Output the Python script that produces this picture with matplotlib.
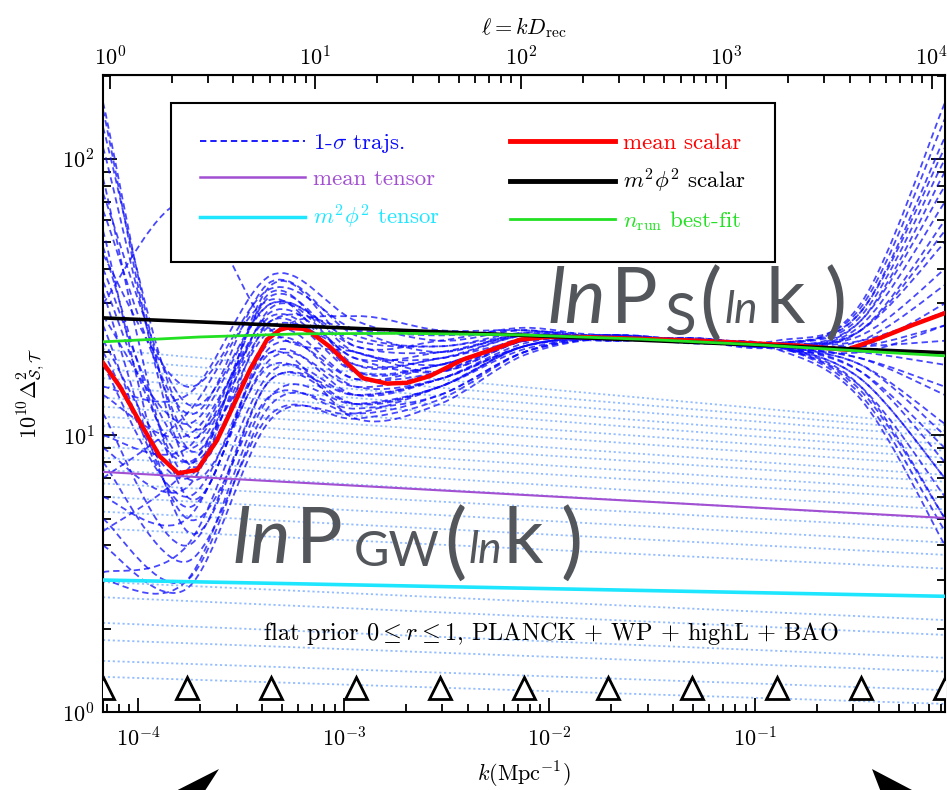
import numpy as np
import matplotlib
matplotlib.use("Agg")
import matplotlib.pyplot as plt
from matplotlib.path import Path
from matplotlib.patches import PathPatch, Polygon
from matplotlib.lines import Line2D

plt.rcParams["font.family"] = "serif"
plt.rcParams["font.serif"] = ["cmr10"]
plt.rcParams["mathtext.fontset"] = "cm"
plt.rcParams["axes.formatter.use_mathtext"] = True

# k range of the plot and knot positions (triangles)
k_range = [6.72e-5, 0.841]
knots_k = [6.72e-5, 1.726e-4, 4.435e-4, 1.139e-3, 2.926e-3, 7.517e-3,
           1.931e-2, 4.961e-2, 0.1274, 0.3275, 0.841]
knot_level = 1.22
D_rec = 13800.0

# mean scalar (red)
red_k = [6.72e-5, 8.13e-5, 1.02e-4, 1.27e-4, 1.56e-4, 1.93e-4, 2.41e-4, 2.88e-4,
         3.49e-4, 4.22e-4, 4.88e-4, 5.28e-4, 6.32e-4, 6.83e-4, 8.55e-4, 1.03e-3,
         1.24e-3, 1.62e-3, 2.03e-3, 2.62e-3, 3.79e-3, 5.55e-3, 7.19e-3, 9.72e-3,
         1.41e-2, 5.40e-2, 0.166, 0.280, 0.406, 0.587, 0.841]
red_v = [18.3, 15.0, 11.1, 8.4, 7.3, 7.5, 9.6, 12.7, 17.3, 22.2, 24.1, 24.5,
         24.3, 23.7, 20.9, 18.3, 16.1, 15.4, 15.5, 16.4, 18.8, 20.7, 22.2, 22.7,
         22.7, 22.0, 21.1, 20.4, 22.5, 25.1, 27.7]

# m^2 phi^2 scalar (black), n_run best fit (green)
phi2_scalar = [26.6, 19.9]
green_k = [6.72e-5, 1.99e-4, 6.11e-4, 1.87e-3, 7.19e-3, 2.76e-2, 0.106, 0.324, 0.841]
green_v = [21.8, 22.7, 23.3, 23.4, 23.1, 22.3, 21.25, 20.2, 19.4]

# tensors
mean_tensor = [7.38, 5.03]
phi2_tensor = [3.0, 2.62]
tensor_left = [20.5, 18.9, 17.4, 16.1, 15.0, 13.7, 12.7, 11.7, 10.8, 9.9, 9.1, 8.3,
               7.5, 6.7, 6.0, 5.3, 4.6, 2.95, 2.6, 2.1, 1.82, 1.53, 1.34]
tensor_right = [10.9, 10.4, 9.9, 9.3, 8.8, 8.3, 7.8, 7.2, 6.8, 6.3, 5.9, 5.4,
                5.0, 4.6, 4.1, 3.7, 3.3, 2.15, 1.9, 1.57, 1.40, 1.20, 1.07]

# 1-sigma scalar trajectories, values at the knots
trajs = [
    [150, 8, 26, 17, 18, 22, 23, 22, 21, 24, 60],
    [110, 10, 32, 20, 19, 23, 22.5, 22, 21.5, 27, 100],
    [85, 6, 22, 15, 16, 21, 23, 22, 20.5, 18, 10],
    [65, 12, 36, 23, 21, 23.5, 22, 22.5, 21, 20, 25],
    [48, 7, 18, 13, 15, 21, 22.5, 21.5, 21, 15, 5],
    [40, 9, 28, 19, 17, 22, 23, 22, 22, 29, 140],
    [33, 5, 14, 12, 14, 20, 22.5, 22, 21, 21, 30],
    [27, 11, 30, 21, 20, 23, 22.5, 22, 21, 17, 8],
    [22, 8, 24, 16, 18, 22, 22.5, 22, 21, 25, 70],
    [18, 6, 20, 14, 16, 21.5, 23, 22, 21, 14, 4.5],
    [30, 70, 24, 20, 17, 22, 23, 22, 21, 21, 25],
    [15, 14, 38, 26, 22, 24, 22, 22.5, 21, 19, 14],
    [12, 4, 16, 13, 15, 20.5, 22.5, 22, 21.5, 28, 110],
    [10, 9, 27, 18, 19, 23, 22.5, 22, 21, 16, 7],
    [8, 3.5, 12, 11.5, 13.5, 20, 23, 22, 21, 22, 35],
    [6, 5, 19, 15, 17, 22, 22, 22.5, 21, 24, 55],
    [5, 3, 13, 12.5, 14, 20, 22.5, 22, 21, 17, 9],
    [4, 2.8, 11.5, 12, 15, 21, 22.5, 22, 21, 20, 18],
    [3.2, 4, 17, 14, 16, 21, 23, 22, 21, 26, 80],
    [3, 3, 14, 13, 15, 21, 22.5, 22, 21, 14.5, 5],
    [45, 15, 34, 24, 20, 23.5, 23, 22, 21.5, 23, 40],
    [75, 13, 30, 22, 21, 23, 22.5, 22, 21, 30, 160],
    [130, 11, 25, 20, 18, 22.5, 22.5, 22, 21, 18, 11],
    [160, 9, 33, 18, 19, 22, 23, 22, 21, 15, 6],
    [20, 7, 35, 21, 22, 24.5, 22.5, 22, 21, 26, 90],
    [25, 5.5, 21, 16, 17, 22, 22.5, 22, 20.5, 13.5, 4],
    [9, 6.5, 29, 19, 20, 23, 22.5, 22, 21, 22, 28],
    [14, 10, 26, 24, 23, 24, 22.5, 22, 21, 19, 15],
    [55, 4.5, 16, 14, 16, 21, 22.5, 22, 21, 24, 50],
    [7, 12, 31, 17, 18, 22, 23, 22, 21.5, 28, 120],
    [36, 8, 23, 27, 24, 24, 22.5, 22, 21, 16, 7],
    [4.5, 7.5, 20, 11.5, 13, 19.5, 22.5, 22, 21, 21, 22],
]


def smooth_path(xk, yv):
    # Catmull-Rom through the knots, in log-log space, as bezier path
    lx = np.log10(xk)
    ly = np.log10(yv)
    n = len(lx)
    verts = [(lx[0], ly[0])]
    codes = [Path.MOVETO]
    for i in range(n - 1):
        a = max(i - 1, 0)
        b = min(i + 2, n - 1)
        c1 = (lx[i] + (lx[i + 1] - lx[a]) / 6, ly[i] + (ly[i + 1] - ly[a]) / 6)
        c2 = (lx[i + 1] - (lx[b] - lx[i]) / 6, ly[i + 1] - (ly[b] - ly[i]) / 6)
        verts += [c1, c2, (lx[i + 1], ly[i + 1])]
        codes += [Path.CURVE4] * 3
    return Path(10 ** np.array(verts), codes)


blue = "#0a0aff"
purple = "#a24fd2"
cyan = "#1ee6ff"
green = "#22e022"

fig = plt.figure(figsize=(9.47, 7.9), dpi=100)
ax = fig.add_axes([0.10877, 0.09873, 0.88912, 0.80633])
ax.set_xscale("log")
ax.set_yscale("log")
ax.set_xlim(k_range[0], k_range[1])
ax.set_ylim(1, 201)

for lo, hi in zip(tensor_left, tensor_right):
    ax.plot(k_range, [lo, hi], color="#94bdff", lw=1.3, ls=(0, (1.2, 1.5)), zorder=1)

for tr in trajs:
    ax.add_patch(PathPatch(smooth_path(knots_k, tr), fill=False, ec=blue, lw=1.3,
                           ls=(0, (3.5, 2.2)), alpha=0.75, zorder=2))

ax.plot(k_range, mean_tensor, color=purple, lw=1.5, zorder=3)
ax.plot(k_range, phi2_tensor, color=cyan, lw=2.6, zorder=3)
ax.plot(red_k, red_v, color="red", lw=3.2, zorder=4)
ax.plot(k_range, phi2_scalar, color="black", lw=2.6, zorder=5)
ax.plot(green_k, green_v, color=green, lw=2, zorder=6)
ax.plot(knots_k, np.full(len(knots_k), knot_level), ls="none", marker="^", ms=16,
        mfc="white", mec="black", mew=2, zorder=7)

ax.text(0.532, 0.124, r"flat prior $0 \leq r \leq 1$, PLANCK + WP + highL + BAO",
        transform=ax.transAxes, ha="center", va="center", fontsize=17.5, zorder=8)

for s in ax.spines.values():
    s.set_linewidth(1.5)
ax.tick_params(which="both", direction="in", top=False, right=True, labelsize=16, width=1.3)
ax.tick_params(which="major", length=10)
ax.tick_params(which="minor", length=6)
ax.tick_params(axis="x", pad=10)
ax.tick_params(axis="y", pad=6)

sec = ax.secondary_xaxis("top", functions=(lambda k: k * D_rec, lambda l: l / D_rec))
sec.tick_params(which="both", direction="in", labelsize=16, pad=4, width=1.3)
sec.tick_params(which="major", length=10)
sec.tick_params(which="minor", length=6)
sec.set_xlabel(r"$\ell = kD_{\rm rec}$", fontsize=16)
sec.xaxis.set_label_coords(0.5, 1.064, transform=ax.transAxes)

ax.set_xlabel(r"$k({\rm Mpc}^{-1})$", fontsize=16)
ax.xaxis.set_label_coords(0.5, -0.076)
ax.set_ylabel(r"$10^{10}\Delta^2_{\mathcal{S},\mathcal{T}}$", fontsize=16)
ax.yaxis.set_label_coords(-0.066, 0.5)

handles = [Line2D([], [], color=blue, lw=1.3, ls=(0, (3.5, 2.2))),
           Line2D([], [], color=purple, lw=1.8),
           Line2D([], [], color=cyan, lw=2.5),
           Line2D([], [], color="red", lw=3.5),
           Line2D([], [], color="black", lw=3.5),
           Line2D([], [], color=green, lw=2)]
labels = [r"1-$\sigma$ trajs.", "mean tensor", r"$m^2\phi^2$ tensor",
          "mean scalar", r"$m^2\phi^2$ scalar", r"$n_{\rm run}$ best-fit"]
leg = ax.legend(handles, labels, ncol=2, loc="upper left",
                bbox_to_anchor=(0.0808, 0.956, 0.717, 0.0), mode="expand",
                borderaxespad=0, fontsize=16.5, handlelength=4.6, handletextpad=0.35,
                labelspacing=0.62, borderpad=1.25, fancybox=False, edgecolor="black",
                framealpha=1, labelcolor="linecolor")
leg.get_frame().set_linewidth(1.5)
leg.set_zorder(10)

# overlay annotations (slide text), positions in pixels from top-left
gray = "#53565b"


def px_text(x, y, s, size, italic=False):
    fig.text(x / 947, 1 - y / 790, s, fontsize=size, family="Lato",
             style="italic" if italic else "normal", color=gray,
             ha="left", va="baseline", zorder=20)


px_text(548, 323, "ln", 56, True)
px_text(611, 323, "P", 56)
px_text(664, 335, "S", 42)
px_text(699, 330, "(", 60)
px_text(725, 323, "ln", 32, True)
px_text(765, 323, "k", 56)
px_text(824, 330, ")", 60)

px_text(233, 563, "ln", 56, True)
px_text(296, 563, "P", 56)
px_text(354, 566, "GW", 35)
px_text(444, 570, "(", 60)
px_text(469, 563, "ln", 32, True)
px_text(503, 563, "k", 56)
px_text(560, 570, ")", 60)

# big black arrow heads at the bottom of the slide
for pts in ([(219, 769), (158, 800), (199, 800)], [(872, 769), (884, 800), (931, 800)]):
    fig.add_artist(Polygon([(x / 947, 1 - y / 790) for x, y in pts], closed=True,
                           transform=fig.transFigure, fc="black", ec="none", zorder=21))

fig.savefig("out.png", dpi=100)
